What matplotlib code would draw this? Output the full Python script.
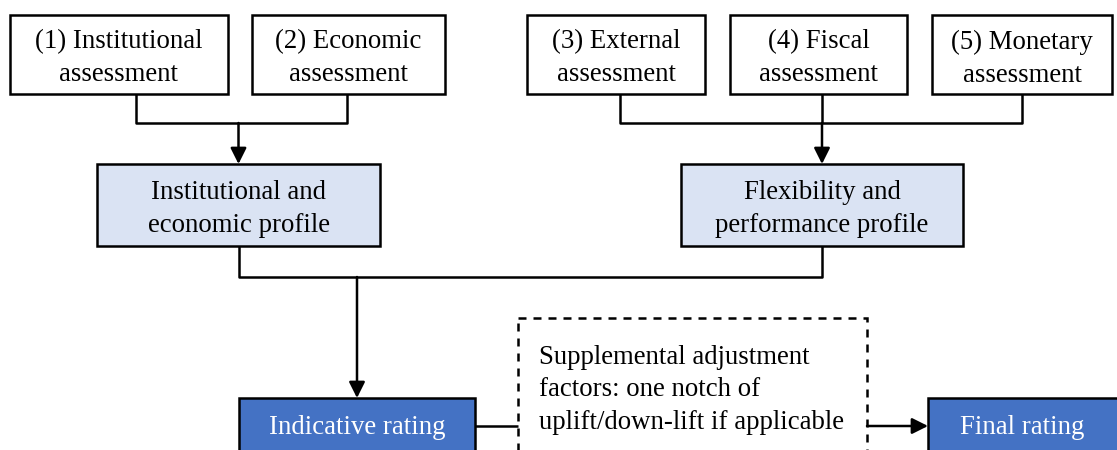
import matplotlib
matplotlib.use("Agg")
import matplotlib.pyplot as plt
from matplotlib.patches import Rectangle

# labels of the flowchart boxes
top_labels = ["(1) Institutional\nassessment", "(2) Economic\nassessment",
              "(3) External\nassessment", "(4) Fiscal\nassessment",
              "(5) Monetary\nassessment"]
profile_labels = ["Institutional and\neconomic profile",
                  "Flexibility and\nperformance profile"]
rating_labels = ["Indicative rating", "Final rating"]
adjust_label = ("Supplemental adjustment\nfactors: one notch of\n"
                "uplift/down-lift if applicable")

# layout in pixel units (x0, x1) and rows (y0, y1), y measured from top
top_x = [(10, 228), (252, 445), (527, 705), (730, 907), (932, 1112)]
top_y = (15, 94)
profile_x = [(97, 380), (681, 963)]
profile_y = (164, 246)
rating_x = [(239, 475), (928, 1140)]
rating_y = (398, 470)
adjust_box = (518, 867, 318, 470)

light = "#DAE3F3"
dark = "#4472C4"
lw = 1.8
fs = 19.3
font = "Liberation Serif"

fig = plt.figure(figsize=(11.17, 4.5), dpi=100)
ax = fig.add_axes([0, 0, 1, 1])
ax.set_xlim(0, 1117)
ax.set_ylim(450, 0)
ax.axis("off")


def box(x0, x1, y0, y1, label, face, color="black"):
    ax.add_patch(Rectangle((x0, y0), x1 - x0, y1 - y0, facecolor=face,
                           edgecolor="black", linewidth=lw))
    ax.text((x0 + x1) / 2, (y0 + y1) / 2 + 4, label, ha="center", va="center",
            fontsize=fs, family=font, color=color, linespacing=1.42)


def line(xs, ys, **kw):
    ax.plot(xs, ys, color="black", linewidth=lw, solid_capstyle="butt", **kw)


def arrow(x0, y0, x1, y1):
    ax.annotate("", xy=(x1, y1), xytext=(x0, y0),
                arrowprops=dict(arrowstyle="-|>", color="black", lw=lw,
                                mutation_scale=24, shrinkA=0, shrinkB=0))


for (x0, x1), lab in zip(top_x, top_labels):
    box(x0, x1, top_y[0], top_y[1], lab, "white")

for (x0, x1), lab in zip(profile_x, profile_labels):
    box(x0, x1, profile_y[0], profile_y[1], lab, light)

# rating boxes are cut by the bottom edge; centre text at the visible part
for (x0, x1), lab in zip(rating_x, rating_labels):
    ax.add_patch(Rectangle((x0, rating_y[0]), x1 - x0, rating_y[1] - rating_y[0],
                           facecolor=dark, edgecolor="black", linewidth=lw))
    ax.text((x0 + min(x1, 1117)) / 2, 428, lab, ha="center", va="center",
            fontsize=fs, family=font, color="white")

# dashed adjustment box
ax0, ax1, ay0, ay1 = adjust_box
ax.add_patch(Rectangle((ax0, ay0), ax1 - ax0, ay1 - ay0, facecolor="none",
                       edgecolor="black", linewidth=lw, linestyle=(0, (3.2, 2.8))))
ax.text(539, 390, adjust_label, ha="left", va="center", fontsize=fs,
        family=font, linespacing=1.42)

# connectors, top left group
cy = 123
xa = 136
xb = 347
line([xa, xa, xb, xb], [top_y[1], cy, cy, top_y[1]])
pl = (profile_x[0][0] + profile_x[0][1]) / 2
arrow(pl, cy, pl, profile_y[0])

# connectors, top right group
xc = 620
xe = 1022
line([xc, xc, xe, xe], [top_y[1], cy, cy, top_y[1]])
pr = (profile_x[1][0] + profile_x[1][1]) / 2
line([pr, pr], [top_y[1], cy])
arrow(pr, cy, pr, profile_y[0])

# profiles to indicative rating
by = 277
line([pl, pl, pr, pr], [profile_y[1], by, by, profile_y[1]])
ir = (rating_x[0][0] + rating_x[0][1]) / 2
arrow(ir, by, ir, rating_y[0])

# indicative -> adjustment -> final
line([rating_x[0][1], ax0], [426, 426])
arrow(ax1, 426, rating_x[1][0], 426)

fig.savefig("out.png", dpi=100)
